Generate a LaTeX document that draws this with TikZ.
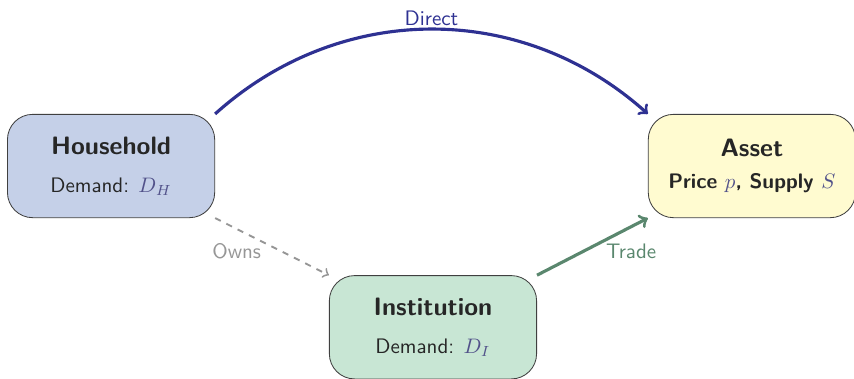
\documentclass[tikz,border=0pt]{standalone}
\usepackage{amsmath}
\usepackage{tikz}
\usetikzlibrary{positioning, arrows}
\usepackage{xcolor}

\definecolor{hhfill}{RGB}{197,208,232}
\definecolor{assetfill}{RGB}{255,251,208}
\definecolor{instfill}{RGB}{200,230,212}
\definecolor{directcol}{RGB}{46,49,146}
\definecolor{tradecol}{RGB}{90,135,110}
\definecolor{ownscol}{RGB}{150,150,150}
\definecolor{mathcol}{RGB}{82,82,138}

\newcommand{\btitle}[1]{{\large\bfseries #1}}
\newcommand{\mvar}[1]{\textcolor{mathcol}{$#1$}}

\begin{document}
\begin{tikzpicture}[node distance=10.73cm, on grid, auto, font=\sffamily,
    box/.style={draw=black!75, rounded corners=12pt, minimum width=3.47cm,
        minimum height=1.73cm, align=center, text=black!85}]
    \useasboundingbox (-1.86,2.78) rectangle (12.44,-3.55);

    \node[box, fill=hhfill] (hh) {\btitle{Household}\\[6pt] Demand: \mvar{D_H}};
    \node[box, fill=assetfill, right=of hh] (asset)
        {\btitle{Asset}\\[3pt] \textbf{Price \mvar{p}, Supply \mvar{S}}};
    \node[box, fill=instfill, below right=2.7cm and 5.39cm of hh] (inst)
        {\btitle{Institution}\\[6pt] Demand: \mvar{D_I}};

    \draw[->, line width=1.5pt, directcol] (hh.north east) to[bend left=42]
        node[inner sep=1pt] {Direct} (asset.north west);
    \draw[->, line width=0.9pt, dashed, ownscol] (hh.south east) --
        node[pos=0.3, below, xshift=-6pt] {Owns} (inst.north west);
    \draw[->, line width=1.5pt, tradecol] (inst.north east) --
        node[pos=0.85, below, yshift=-4pt] {Trade} (asset.south west);
\end{tikzpicture}
\end{document}
